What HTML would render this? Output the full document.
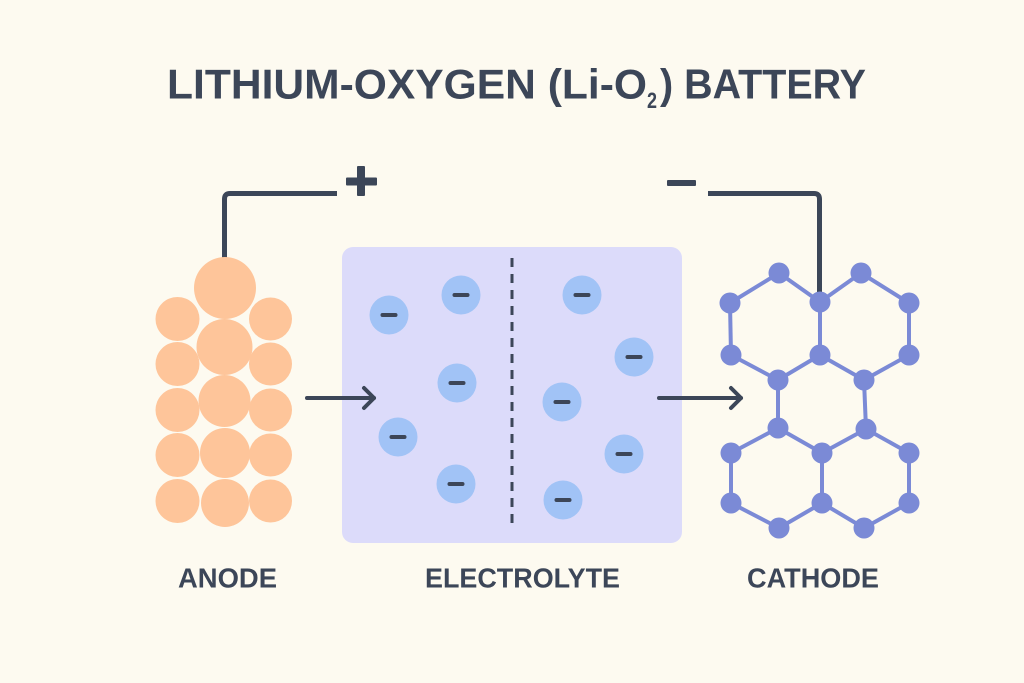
<!DOCTYPE html>
<html>
<head>
<meta charset="utf-8">
<style>
  html, body { margin: 0; padding: 0; background: #fdfaf0; }
  svg { display: block; }
  text { font-family: "Liberation Sans", "DejaVu Sans", sans-serif; font-weight: bold; fill: #3c4658; }
</style>
</head>
<body>
<svg width="1024" height="683" viewBox="0 0 1024 683" xmlns="http://www.w3.org/2000/svg">
  <rect x="0" y="0" width="1024" height="683" fill="#fdfaf0"/>

  <!-- Title -->
  <text x="167" y="98.5" font-size="42" textLength="480" lengthAdjust="spacingAndGlyphs">LITHIUM-OXYGEN (Li-O</text>
  <text x="647" y="108" font-size="22" textLength="10" lengthAdjust="spacingAndGlyphs">2</text>
  <text x="660" y="98.5" font-size="42" textLength="206" lengthAdjust="spacingAndGlyphs">) BATTERY</text>

  <!-- Anode wire + plus -->
  <path d="M224.5 260 V199 Q224.5 193.5 230 193.5 H337" fill="none" stroke="#3c4658" stroke-width="5"/>
  <rect x="346" y="177.5" width="31" height="8" fill="#3c4658" rx="1"/>
  <rect x="357" y="166" width="8" height="30" fill="#3c4658" rx="1"/>

  <!-- Cathode wire + minus -->
  <path d="M708 193.5 H814 Q819.5 193.5 819.5 199 V302" fill="none" stroke="#3c4658" stroke-width="5"/>
  <rect x="667" y="180" width="29" height="6" fill="#3c4658" rx="1"/>

  <!-- Anode circles -->
  <g fill="#fec59a">
    <circle cx="177.5" cy="319" r="22"/>
    <circle cx="177.5" cy="364" r="22"/>
    <circle cx="177.5" cy="410" r="22"/>
    <circle cx="177.5" cy="455" r="22"/>
    <circle cx="177.5" cy="501" r="22"/>
    <circle cx="270.5" cy="319" r="21.5"/>
    <circle cx="270.5" cy="364" r="21.5"/>
    <circle cx="270.5" cy="410" r="21.5"/>
    <circle cx="270.5" cy="455" r="21.5"/>
    <circle cx="270.5" cy="501" r="21.5"/>
    <circle cx="225" cy="288" r="31"/>
    <circle cx="224.5" cy="347" r="28"/>
    <circle cx="224.5" cy="401" r="26"/>
    <circle cx="225" cy="453" r="25"/>
    <circle cx="225" cy="503" r="24"/>
  </g>

  <!-- Electrolyte box -->
  <rect x="342" y="247" width="340" height="296" rx="11" fill="#dcdbfa"/>
  <line x1="512" y1="258" x2="512" y2="527" stroke="#3c4658" stroke-width="3" stroke-dasharray="9 7"/>

  <!-- Left arrow -->
  <g fill="none" stroke="#3c4658" stroke-width="4" stroke-linecap="round" stroke-linejoin="round">
    <line x1="307" y1="398" x2="374" y2="398"/>
    <polyline points="364,388 374,398 364,408"/>
  </g>

  <!-- Ions -->
  <g fill="#a1c3f6">
    <circle cx="389" cy="315" r="19.5"/>
    <circle cx="461" cy="295" r="19.5"/>
    <circle cx="457" cy="383" r="19.5"/>
    <circle cx="398" cy="437" r="19.5"/>
    <circle cx="456" cy="484" r="19.5"/>
    <circle cx="582" cy="295" r="19.5"/>
    <circle cx="634" cy="357" r="19.5"/>
    <circle cx="562" cy="402" r="19.5"/>
    <circle cx="624" cy="454" r="19.5"/>
    <circle cx="563" cy="500" r="19.5"/>
  </g>
  <g stroke="#3c4658" stroke-width="4" stroke-linecap="round">
    <line x1="382.5" y1="315" x2="395.5" y2="315"/>
    <line x1="454.5" y1="295" x2="467.5" y2="295"/>
    <line x1="450.5" y1="383" x2="463.5" y2="383"/>
    <line x1="391.5" y1="437" x2="404.5" y2="437"/>
    <line x1="449.5" y1="484" x2="462.5" y2="484"/>
    <line x1="575.5" y1="295" x2="588.5" y2="295"/>
    <line x1="627.5" y1="357" x2="640.5" y2="357"/>
    <line x1="555.5" y1="402" x2="568.5" y2="402"/>
    <line x1="617.5" y1="454" x2="630.5" y2="454"/>
    <line x1="556.5" y1="500" x2="569.5" y2="500"/>
  </g>

  <!-- Right arrow -->
  <g fill="none" stroke="#3c4658" stroke-width="4" stroke-linecap="round" stroke-linejoin="round">
    <line x1="659" y1="398" x2="741" y2="398"/>
    <polyline points="731,388 741,398 731,408"/>
  </g>

  <!-- Cathode lattice -->
  <g stroke="#7b8ad6" stroke-width="4" fill="none">
    <line x1="779" y1="273" x2="730" y2="303"/>
    <line x1="779" y1="273" x2="820" y2="302"/>
    <line x1="861" y1="273" x2="820" y2="302"/>
    <line x1="861" y1="273" x2="909" y2="303"/>
    <line x1="730" y1="303" x2="731" y2="355"/>
    <line x1="820" y1="302" x2="820" y2="355"/>
    <line x1="909" y1="303" x2="909" y2="355"/>
    <line x1="731" y1="355" x2="778" y2="380"/>
    <line x1="820" y1="355" x2="778" y2="380"/>
    <line x1="820" y1="355" x2="864" y2="380"/>
    <line x1="909" y1="355" x2="864" y2="380"/>
    <line x1="778" y1="380" x2="778" y2="428"/>
    <line x1="864" y1="380" x2="866" y2="429"/>
    <line x1="778" y1="428" x2="822" y2="453"/>
    <line x1="866" y1="429" x2="822" y2="453"/>
    <line x1="778" y1="428" x2="731" y2="453"/>
    <line x1="866" y1="429" x2="909" y2="453"/>
    <line x1="731" y1="453" x2="731" y2="503"/>
    <line x1="822" y1="453" x2="822" y2="503"/>
    <line x1="909" y1="453" x2="909" y2="503"/>
    <line x1="731" y1="503" x2="779" y2="528"/>
    <line x1="822" y1="503" x2="779" y2="528"/>
    <line x1="822" y1="503" x2="864" y2="528"/>
    <line x1="909" y1="503" x2="864" y2="528"/>
  </g>
  <g fill="#7b8ad6">
    <circle cx="779" cy="273" r="10.5"/>
    <circle cx="861" cy="273" r="10.5"/>
    <circle cx="730" cy="303" r="10.5"/>
    <circle cx="820" cy="302" r="10.5"/>
    <circle cx="909" cy="303" r="10.5"/>
    <circle cx="731" cy="355" r="10.5"/>
    <circle cx="820" cy="355" r="10.5"/>
    <circle cx="909" cy="355" r="10.5"/>
    <circle cx="778" cy="380" r="10.5"/>
    <circle cx="864" cy="380" r="10.5"/>
    <circle cx="778" cy="428" r="10.5"/>
    <circle cx="866" cy="429" r="10.5"/>
    <circle cx="731" cy="453" r="10.5"/>
    <circle cx="822" cy="453" r="10.5"/>
    <circle cx="909" cy="453" r="10.5"/>
    <circle cx="731" cy="503" r="10.5"/>
    <circle cx="822" cy="503" r="10.5"/>
    <circle cx="909" cy="503" r="10.5"/>
    <circle cx="779" cy="528" r="10.5"/>
    <circle cx="864" cy="528" r="10.5"/>
  </g>

  <!-- Labels -->
  <text x="178" y="587.5" font-size="27.5" textLength="99" lengthAdjust="spacingAndGlyphs">ANODE</text>
  <text x="425" y="587.5" font-size="27.5" textLength="195" lengthAdjust="spacingAndGlyphs">ELECTROLYTE</text>
  <text x="747" y="587.5" font-size="27.5" textLength="132" lengthAdjust="spacingAndGlyphs">CATHODE</text>
</svg>
</body>
</html>
